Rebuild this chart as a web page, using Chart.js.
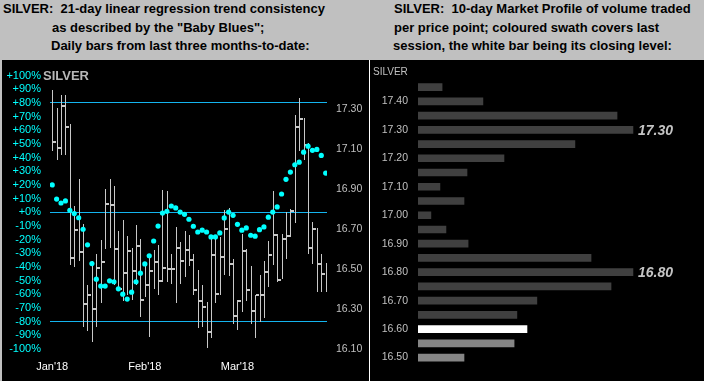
<!DOCTYPE html>
<html lang="en">
<head>
  <meta charset="UTF-8">
  <title>Silver: Baby Blues and Market Profile</title>
  <script src="https://cdn.jsdelivr.net/npm/chart.js"></script>
  <style>
    body {
      margin: 0;
      width: 704px;
      height: 381px;
      background: #c0c0c0;
      position: relative;
      overflow: hidden;
      font-family: Arial, 'Liberation Sans', sans-serif;
    }
    .head {
      position: absolute;
      font-weight: bold;
      font-size: 13px;
      line-height: 18.5px;
      color: #000;
      white-space: pre;
    }
    .panel { position: absolute; top: 60px; height: 321px; background: #000; }
    #leftPanel { left: 2px; width: 367px; }
    #rightPanel { left: 369px; width: 335px; border-left: 1px solid #fff; box-sizing: border-box; }
    canvas { position: absolute; top: 60px; }
    #barsChart { left: 2px; }
    #profileChart { left: 370px; }
    .tag { position: absolute; white-space: pre; }
    #leftTag { left: 43px; top: 68px; font: bold 13px Arial, sans-serif; line-height: 16px; color: #b8b8b8; }
    #rightTag { left: 373px; top: 64px; font: 10px Arial, sans-serif; line-height: 16px; color: #c0c0c0; }
  </style>
</head>
<body>
  <div class="head" style="left:3px; top:0px;">SILVER:  21-day linear regression trend consistency</div>
  <div class="head" style="left:52px; top:18.5px;">as described by the "Baby Blues";</div>
  <div class="head" style="left:51px; top:37px;">Daily bars from last three months-to-date:</div>
  <div class="head" style="left:394px; top:0px;">SILVER:  10-day Market Profile of volume traded</div>
  <div class="head" style="left:394px; top:18.5px;">per price point; coloured swath covers last</div>
  <div class="head" style="left:393px; top:37px;">session, the white bar being its closing level:</div>

  <div class="panel" id="leftPanel"></div>
  <div class="panel" id="rightPanel"></div>
  <canvas id="barsChart" width="367" height="321"></canvas>
  <canvas id="profileChart" width="334" height="321"></canvas>
  <div class="tag" id="leftTag">SILVER</div>
  <div class="tag" id="rightTag">SILVER</div>

  <script>
    // daily bars, Jan'18 to late Mar'18
    const highs = [17.40, 17.31, 17.375, 17.375, 17.225, 16.817, 16.953, 16.728, 16.423, 16.54,
      16.578, 16.645, 16.903, 16.95, 16.915, 16.69, 16.745, 16.665, 16.607, 16.72,
      16.653, 16.537, 16.573, 16.595, 16.62, 16.895, 16.89, 16.575, 16.712, 16.637,
      16.69, 16.67, 16.578, 16.495, 16.42, 16.337, 16.662, 16.653, 16.662, 16.795,
      16.807, 16.553, 16.345, 16.678, 16.603, 16.517, 16.373, 16.473, 16.54, 16.64,
      16.89, 16.678, 16.678, 16.787, 16.803, 17.273, 17.358, 17.26, 17.133, 16.737,
      16.707, 16.578, 16.533];
    const lows = [17.09, 17.045, 17.07, 17.07, 16.52, 16.512, 16.542, 16.212, 16.19, 16.133,
      16.212, 16.328, 16.603, 16.607, 16.42, 16.403, 16.34, 16.37, 16.345, 16.42,
      16.262, 16.362, 16.162, 16.403, 16.37, 16.437, 16.437, 16.428, 16.328, 16.428,
      16.462, 16.517, 16.37, 16.203, 16.212, 16.103, 16.157, 16.328, 16.373, 16.473,
      16.467, 16.223, 16.195, 16.287, 16.34, 16.223, 16.153, 16.237, 16.253, 16.412,
      16.52, 16.437, 16.45, 16.55, 16.662, 16.732, 17.09, 17.047, 16.578, 16.528,
      16.387, 16.387, 16.387];
    const closes = [17.137, 17.107, 17.317, 17.21, 16.558, 16.698, 16.587, 16.323, 16.373, 16.30,
      16.508, 16.537, 16.825, 16.82, 16.603, 16.403, 16.482, 16.592, 16.49, 16.617,
      16.345, 16.423, 16.492, 16.537, 16.442, 16.508, 16.503, 16.503, 16.607, 16.542,
      16.598, 16.548, 16.395, 16.342, 16.312, 16.183, 16.57, 16.378, 16.562, 16.703,
      16.525, 16.267, 16.342, 16.59, 16.395, 16.29, 16.37, 16.37, 16.487, 16.573,
      16.67, 16.445, 16.65, 16.667, 16.792, 17.21, 17.253, 17.12, 16.607, 16.703,
      16.528, 16.475, 16.47];
    // "Baby Blues": 21-day linear regression trend consistency, in %
    const blues = [20, 9.7, 6.8, 8.3, 1.5, -0.9, -4, -12.4, -23.8, -37.5,
      -48.9, -54, -54, -50.1, -50.8, -56, -59.9, -63.5, -58.4, -50.8,
      -44.5, -37.8, -31.8, -21, -10.1, -0.5, 0.7, 4.6, 3.2, 0.2,
      -1.5, -5.1, -10.2, -14.4, -13.1, -14.4, -18, -18, -15.1, -4.1,
      0.2, -2.2, -8.8, -13.1, -11.4, -16.8, -17.5, -12.7, -10.7, -3.6,
      0.2, 3.9, 13.4, 24.1, 29.4, 34.8, 36.7, 44, 48.4, 45.3,
      46, 41.6, 28.7];
    const monthTicks = [0, 21, 42];
    const monthLabels = ["Jan'18", "Feb'18", "Mar'18"];
    const priceTicks = [16.10, 16.30, 16.50, 16.70, 16.90, 17.10, 17.30];
    const refLevels = [80, 0, -80];

    // 10-day market profile (relative volume per price point)
    const profilePrices = ['17.45', '17.40', '17.35', '17.30', '17.25', '17.20', '17.15', '17.10', '17.05', '17.00',
      '16.95', '16.90', '16.85', '16.80', '16.75', '16.70', '16.65', '16.60', '16.55', '16.50'];
    const profileVolumes = [11.2, 30.2, 92.6, 100, 73, 40, 22.8, 10.2, 21.4, 6,
      13, 23.3, 80.5, 100, 89.8, 55.3, 46, 50.7, 44.7, 21.4];
    const profileTicks = ['17.40', '17.30', '17.20', '17.10', '17.00', '16.90', '16.80', '16.70', '16.60', '16.50'];
    const lastSession = ['16.60', '16.55', '16.50'];
    const closeLevel = '16.60';
    const peakLabels = ['17.30', '16.80'];

    const sans = 'Arial, sans-serif';

    // high-low bars with a close tick on the right
    const hlcBars = {
      id: 'hlcBars',
      beforeDatasetsDraw(chart) {
        const { ctx, chartArea, scales } = chart;
        const x = scales.x, y = scales.price;
        ctx.save();
        ctx.beginPath();
        ctx.rect(chartArea.left, chartArea.top, chartArea.width, chartArea.height);
        ctx.clip();
        ctx.fillStyle = '#c8c8c8';
        highs.forEach((h, i) => {
          const px = Math.round(x.getPixelForValue(i));
          const yh = Math.round(y.getPixelForValue(h));
          const yl = Math.round(y.getPixelForValue(lows[i]));
          const yc = Math.round(y.getPixelForValue(closes[i]));
          ctx.fillRect(px, yh, 1, yl - yh);
          ctx.fillRect(px + 1, yc - 1, 3, 2);
        });
        ctx.restore();
      }
    };

    new Chart(document.getElementById('barsChart'), {
      type: 'scatter',
      data: {
        datasets: [{
          data: blues.map((v, i) => ({ x: i, y: v })),
          yAxisID: 'pct',
          pointRadius: 2.6,
          pointBackgroundColor: '#00ffff',
          pointBorderWidth: 0,
          showLine: false
        }]
      },
      options: {
        responsive: false,
        animation: false,
        layout: { padding: { top: 15, left: 0, right: 0, bottom: 0 } },
        plugins: { legend: { display: false }, tooltip: { enabled: false } },
        scales: {
          x: {
            type: 'linear', min: -0.5, max: 62.3,
            grid: { display: false, drawTicks: false }, border: { display: false },
            afterBuildTicks: s => { s.ticks = monthTicks.map(v => ({ value: v })); },
            afterFit: s => { s.height = 32; },
            ticks: {
              color: '#ffffff', font: { family: sans, size: 11 }, padding: 11,
              maxRotation: 0, autoSkip: false,
              callback: (v, i) => monthLabels[i]
            }
          },
          pct: {
            position: 'left', min: -100, max: 100,
            grid: {
              drawTicks: false,
              color: c => refLevels.includes(c.tick.value) ? '#14b4ee' : 'rgba(0,0,0,0)'
            },
            border: { display: false },
            afterFit: s => { s.width = 48; },
            ticks: {
              stepSize: 10, autoSkip: false, padding: 9, color: '#00ffff',
              font: { family: sans, size: 11 },
              callback: v => (v >= 0 ? '+' : '') + v + '%'
            }
          },
          price: {
            position: 'right', min: 16.10, max: 17.47,
            grid: { display: false, drawTicks: false }, border: { display: false },
            afterBuildTicks: s => { s.ticks = priceTicks.map(v => ({ value: v })); },
            afterFit: s => { s.width = 42; },
            ticks: {
              autoSkip: false, padding: 9, color: '#c0c0c0',
              font: { family: sans, size: 10.5 },
              callback: v => v.toFixed(2)
            }
          }
        }
      },
      plugins: [hlcBars]
    });

    // italic price tags next to the high-volume nodes
    const peakTags = {
      id: 'peakTags',
      afterDatasetsDraw(chart) {
        const { ctx } = chart;
        const meta = chart.getDatasetMeta(0);
        ctx.save();
        ctx.font = 'italic bold 14px Arial, sans-serif';
        ctx.fillStyle = '#c4c4c4';
        ctx.textBaseline = 'middle';
        peakLabels.forEach(p => {
          const bar = meta.data[profilePrices.indexOf(p)];
          ctx.fillText(p, bar.x + 5, bar.y + 1);
        });
        ctx.restore();
      }
    };

    new Chart(document.getElementById('profileChart'), {
      type: 'bar',
      data: {
        labels: profilePrices,
        datasets: [{
          data: profileVolumes,
          backgroundColor: profilePrices.map(p => p === closeLevel ? '#ffffff' : (lastSession.includes(p) ? '#858585' : '#404040')),
          barThickness: 7
        }]
      },
      options: {
        indexAxis: 'y',
        responsive: false,
        animation: false,
        layout: { padding: { top: 20, bottom: 5, right: 4, left: 0 } },
        plugins: { legend: { display: false }, tooltip: { enabled: false } },
        scales: {
          x: { display: false, min: 0, max: 131.2 },
          y: {
            grid: { display: false, drawTicks: false }, border: { display: false },
            afterFit: s => { s.width = 48; },
            ticks: {
              autoSkip: false, padding: 10, color: '#c0c0c0',
              font: { family: sans, size: 10.5 },
              callback: (v, i) => profileTicks.includes(profilePrices[i]) ? profilePrices[i] : ''
            }
          }
        }
      },
      plugins: [peakTags]
    });
  </script>
</body>
</html>
